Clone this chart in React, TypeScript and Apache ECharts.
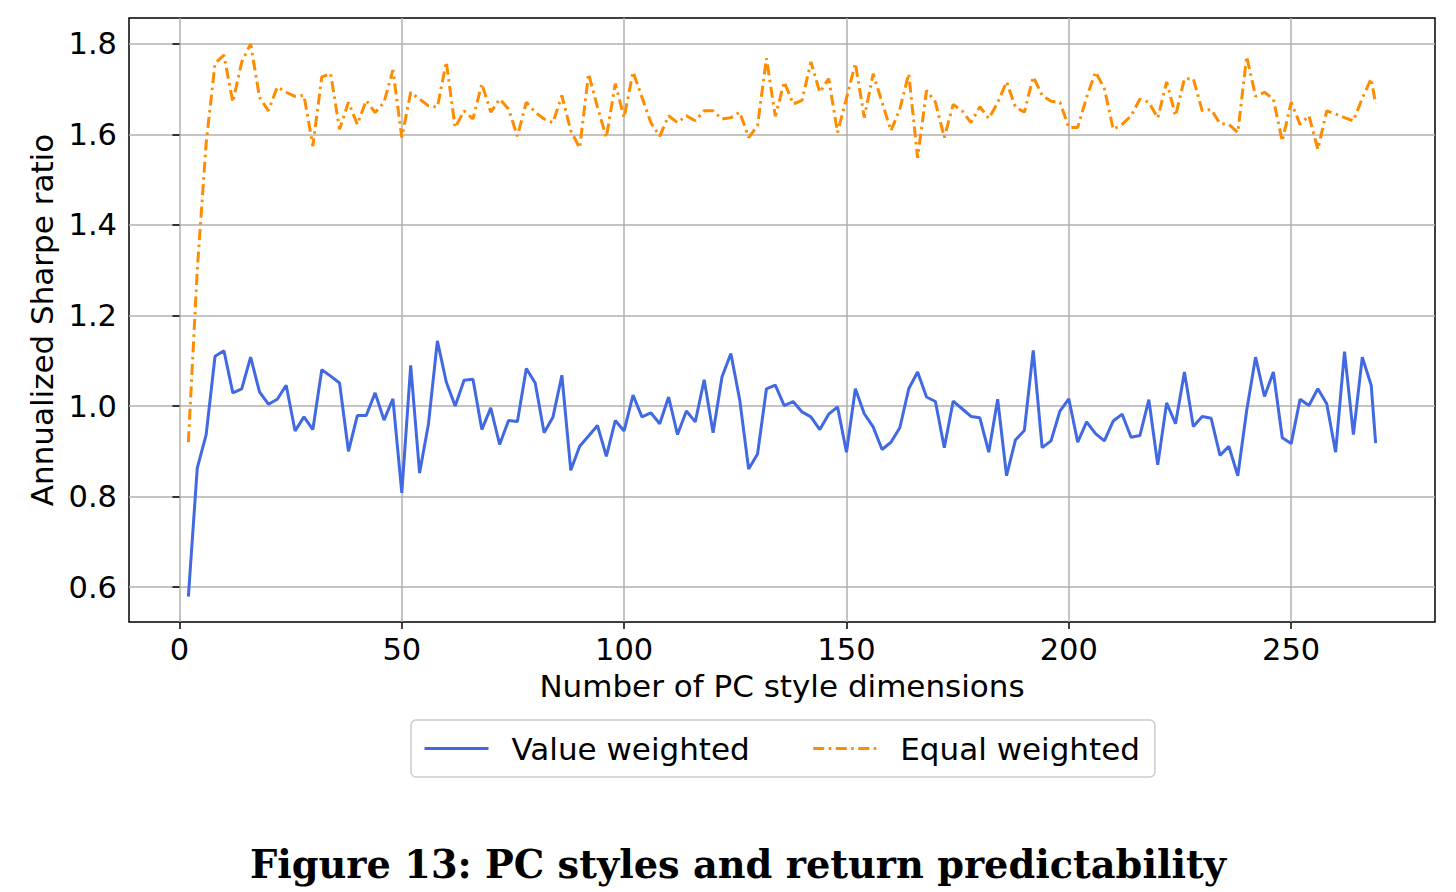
import React, { useEffect, useRef } from "react";
import * as echarts from "echarts";

const xValues: number[] = [
  2, 4, 6, 8, 10, 12, 14, 16, 18, 20, 22, 24, 26, 28, 30, 32, 34, 36, 38, 40,
  42, 44, 46, 48, 50, 52, 54, 56, 58, 60, 62, 64, 66, 68, 70, 72, 74, 76, 78, 80,
  82, 84, 86, 88, 90, 92, 94, 96, 98, 100, 102, 104, 106, 108, 110, 112, 114, 116, 118, 120,
  122, 124, 126, 128, 130, 132, 134, 136, 138, 140, 142, 144, 146, 148, 150, 152, 154, 156, 158, 160,
  162, 164, 166, 168, 170, 172, 174, 176, 178, 180, 182, 184, 186, 188, 190, 192, 194, 196, 198, 200,
  202, 204, 206, 208, 210, 212, 214, 216, 218, 220, 222, 224, 226, 228, 230, 232, 234, 236, 238, 240,
  242, 244, 246, 248, 250, 252, 254, 256, 258, 260, 262, 264, 266, 268, 269,
];

const valueWeighted: number[] = [
  0.579, 0.863, 0.937, 1.11, 1.122, 1.029, 1.038, 1.108, 1.031, 1.004,
  1.015, 1.046, 0.945, 0.976, 0.948, 1.08, 1.066, 1.051, 0.9, 0.979,
  0.979, 1.029, 0.969, 1.016, 0.808, 1.09, 0.852, 0.961, 1.144, 1.053,
  1.0, 1.057, 1.059, 0.948, 0.996, 0.915, 0.968, 0.966, 1.083, 1.051,
  0.941, 0.976, 1.068, 0.858, 0.911, 0.934, 0.957, 0.889, 0.968, 0.945,
  1.024, 0.976, 0.985, 0.961, 1.02, 0.937, 0.989, 0.965, 1.058, 0.941,
  1.064, 1.116, 1.013, 0.861, 0.894, 1.038, 1.046, 1.001, 1.01, 0.987,
  0.976, 0.948, 0.982, 0.998, 0.898, 1.038, 0.983, 0.954, 0.904, 0.92,
  0.952, 1.038, 1.075, 1.02, 1.01, 0.908, 1.011, 0.994, 0.977, 0.974,
  0.898, 1.015, 0.846, 0.925, 0.946, 1.123, 0.908, 0.923, 0.989, 1.016,
  0.92, 0.965, 0.939, 0.923, 0.967, 0.982, 0.931, 0.935, 1.014, 0.87,
  1.007, 0.961, 1.075, 0.955, 0.977, 0.973, 0.891, 0.911, 0.846, 0.99,
  1.108, 1.021, 1.075, 0.93, 0.917, 1.015, 1.001, 1.038, 1.005, 0.898,
  1.12, 0.937, 1.108, 1.046, 0.918,
];

const equalWeighted: number[] = [
  0.92, 1.3, 1.58, 1.757, 1.775, 1.671, 1.76, 1.8, 1.682, 1.652,
  1.705, 1.693, 1.684, 1.686, 1.574, 1.727, 1.734, 1.611, 1.671, 1.622,
  1.675, 1.648, 1.671, 1.742, 1.593, 1.693, 1.678, 1.663, 1.66, 1.76,
  1.615, 1.652, 1.634, 1.712, 1.649, 1.678, 1.656, 1.596, 1.671, 1.649,
  1.634, 1.626, 1.686, 1.608, 1.57, 1.734, 1.66, 1.593, 1.712, 1.637,
  1.738, 1.682, 1.626, 1.596, 1.641, 1.626, 1.641, 1.63, 1.652, 1.652,
  1.634, 1.637, 1.649, 1.593, 1.619, 1.768, 1.64, 1.716, 1.667, 1.675,
  1.76, 1.693, 1.723, 1.604, 1.68, 1.757, 1.637, 1.734, 1.671, 1.608,
  1.656, 1.734, 1.548, 1.697, 1.671, 1.593, 1.666, 1.652, 1.626, 1.661,
  1.635, 1.67, 1.716, 1.66, 1.649, 1.727, 1.686, 1.673, 1.671, 1.615,
  1.615, 1.682, 1.738, 1.701, 1.611, 1.622, 1.641, 1.678, 1.671, 1.636,
  1.716, 1.641, 1.723, 1.723, 1.652, 1.655, 1.624, 1.622, 1.604, 1.772,
  1.684, 1.693, 1.678, 1.585, 1.671, 1.622, 1.641, 1.567, 1.652, 1.645,
  1.637, 1.63, 1.68, 1.723, 1.667,
];

const xTicks: number[] = [0, 50, 100, 150, 200, 250];
const yTicks: number[] = [0.6, 0.8, 1.0, 1.2, 1.4, 1.6, 1.8];

const seriesNames: string[] = ["Value weighted", "Equal weighted"];
const xAxisTitle = "Number of PC style dimensions";
const yAxisTitle = "Annualized Sharpe ratio";
const caption = "Figure 13: PC styles and return predictability";

const FONT = '"DejaVu Sans", sans-serif';

export default function App() {
  const ref = useRef<HTMLDivElement>(null);

  useEffect(() => {
    if (!ref.current) return;
    const chart = echarts.init(ref.current, undefined, { renderer: "svg" });
    const vw = xValues.map((x, i) => [x, valueWeighted[i]]);
    const ew = xValues.map((x, i) => [x, equalWeighted[i]]);

    chart.setOption({
      animation: false,
      backgroundColor: "#ffffff",
      grid: {
        left: 129,
        right: 21,
        top: 18,
        bottom: 270,
        show: true,
        borderColor: "#000000",
        borderWidth: 1.5,
        backgroundColor: "transparent",
      },
      legend: {
        data: seriesNames,
        left: 411,
        top: 720,
        orient: "horizontal",
        itemWidth: 64,
        itemHeight: 20,
        itemGap: 62,
        padding: [13, 15, 13, 12],
        borderColor: "#cccccc",
        borderWidth: 1.5,
        borderRadius: 5,
        itemStyle: { opacity: 0 },
        lineStyle: { width: 3 },
        textStyle: {
          fontFamily: FONT,
          fontSize: 31,
          color: "#000000",
          padding: [0, 0, 0, 18],
        },
      },
      xAxis: {
        type: "value",
        min: -11.35,
        max: 282.35,
        name: xAxisTitle,
        nameLocation: "middle",
        nameGap: 48,
        nameTextStyle: { fontFamily: FONT, fontSize: 31, color: "#000000" },
        axisLine: { show: false },
        axisTick: {
          show: true,
          inside: false,
          length: 7,
          lineStyle: { color: "#000000", width: 1.5 },
          customValues: xTicks,
        },
        axisLabel: {
          customValues: xTicks,
          fontFamily: FONT,
          fontSize: 30.5,
          color: "#000000",
          margin: 12,
          formatter: (v: number) => String(Math.round(v)),
        },
        splitLine: { show: true, lineStyle: { color: "#b0b0b0", width: 1.5 } },
      },
      yAxis: {
        type: "value",
        min: 0.523,
        max: 1.857,
        name: yAxisTitle,
        nameLocation: "middle",
        nameGap: 70,
        nameRotate: 90,
        nameTextStyle: { fontFamily: FONT, fontSize: 31, color: "#000000" },
        axisLine: { show: false },
        axisTick: {
          show: true,
          inside: false,
          length: 7,
          lineStyle: { color: "#000000", width: 1.5 },
          customValues: yTicks,
        },
        axisLabel: {
          customValues: yTicks,
          fontFamily: FONT,
          fontSize: 30.5,
          color: "#000000",
          margin: 12,
          formatter: (v: number) => v.toFixed(1),
        },
        splitLine: { show: true, lineStyle: { color: "#b0b0b0", width: 1.5 } },
      },
      series: [
        {
          name: seriesNames[0],
          type: "line",
          data: vw,
          showSymbol: false,
          symbol: "none",
          lineStyle: { color: "#4169e1", width: 3 },
          itemStyle: { color: "#4169e1" },
          z: 3,
        },
        {
          name: seriesNames[1],
          type: "line",
          data: ew,
          showSymbol: false,
          symbol: "none",
          lineStyle: { color: "#ff8c00", width: 3, type: [11, 4.5, 2.5, 4.5], cap: "butt" },
          itemStyle: { color: "#ff8c00" },
          z: 4,
        },
      ],
      graphic: [
        {
          type: "text",
          x: 738,
          y: 864,
          style: {
            text: caption,
            font: 'bold 38.3px "DejaVu Serif", serif',
            fill: "#000000",
            textAlign: "center",
            textVerticalAlign: "middle",
          },
        },
      ],
    });

    return () => {
      chart.dispose();
    };
  }, []);

  return (
    <div
      ref={ref}
      style={{ position: "absolute", left: 0, top: 0, width: 1456, height: 892, background: "#fff" }}
    />
  );
}
